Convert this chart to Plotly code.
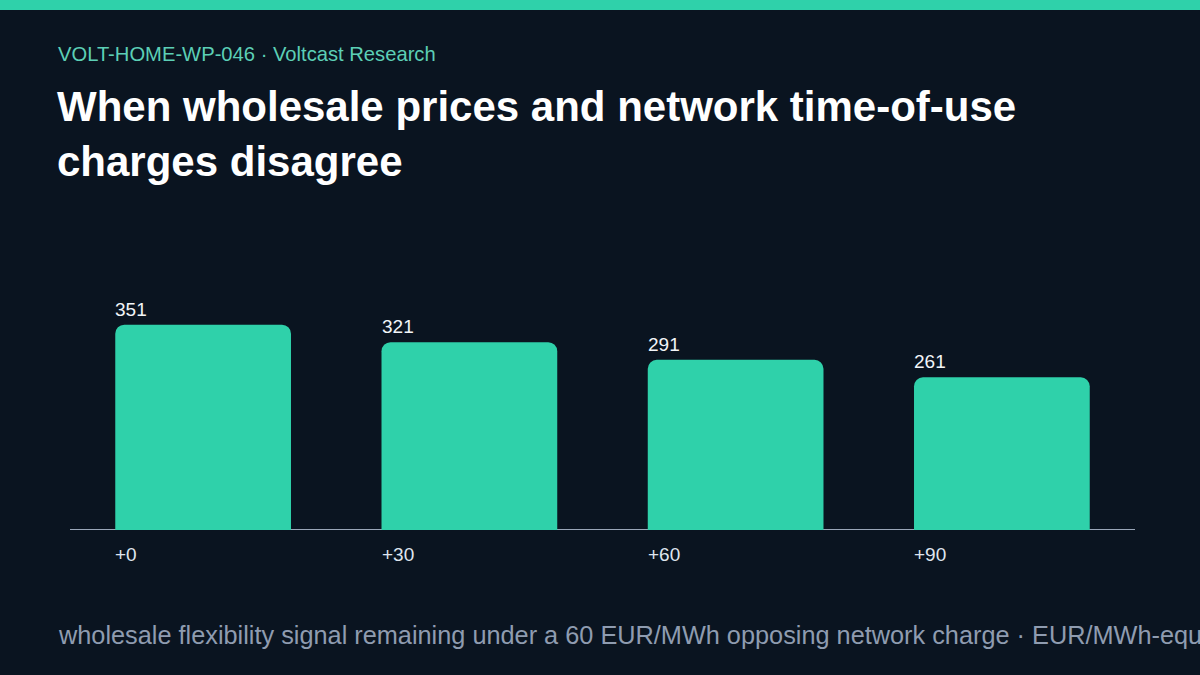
import plotly.graph_objects as go

# values
offsets = ["+0", "+30", "+60", "+90"]
remaining = [351, 321, 291, 261]

kicker = "VOLT-HOME-WP-046 · Voltcast Research"
title = "When wholesale prices and network time-of-use<br>charges disagree"
footer = ("wholesale flexibility signal remaining under a 60 EUR/MWh opposing "
          "network charge · EUR/MWh-equivalent")

BG = "#0a1420"
TEAL = "#2fd1aa"
W, H = 1200, 675
ML, MR, MT, MB = 70, 65, 296, 145
plot_h = H - MT - MB
plot_w = W - ML - MR


def px_to_paper_y(py):
    return (H - MB - py) / plot_h


def px_to_paper_x(px):
    return (px - ML) / plot_w


xs = list(range(len(offsets)))
bar_w = 0.66

fig = go.Figure()
fig.add_trace(go.Bar(
    x=xs, y=remaining, width=bar_w,
    marker=dict(color=TEAL, line=dict(width=0), cornerradius=9),
    hoverinfo="skip",
))

# value labels, left-aligned on each bar
for x, v in zip(xs, remaining):
    fig.add_annotation(x=x - bar_w / 2, y=v, text=str(v), showarrow=False,
                       xanchor="left", yanchor="bottom", yshift=3, xshift=-2,
                       font=dict(size=19, color="#f2f5f8"))

# category labels below the baseline
for x, lab in zip(xs, offsets):
    fig.add_annotation(x=x - bar_w / 2, y=0, text=lab, showarrow=False,
                       xanchor="left", yanchor="top", yshift=-12, xshift=-2,
                       font=dict(size=19, color="#dfe5ee"))

fig.add_annotation(xref="paper", yref="paper", x=px_to_paper_x(56), y=px_to_paper_y(54),
                   text=kicker, showarrow=False, xanchor="left", yanchor="middle",
                   font=dict(size=20.2, color="#5ccfb6"))
fig.add_annotation(xref="paper", yref="paper", x=px_to_paper_x(56), y=px_to_paper_y(635),
                   text=footer, showarrow=False, xanchor="left", yanchor="middle",
                   font=dict(size=25.3, color="#8f9cb0"))

# teal strip along the top edge
fig.add_shape(type="rect", xref="paper", yref="paper",
              x0=px_to_paper_x(-5), x1=px_to_paper_x(W + 5),
              y0=px_to_paper_y(10), y1=px_to_paper_y(-5),
              fillcolor=TEAL, line=dict(width=0), layer="above")

fig.update_layout(
    width=W, height=H,
    paper_bgcolor=BG, plot_bgcolor=BG,
    margin=dict(l=ML, r=MR, t=MT, b=MB),
    font=dict(family="Liberation Sans, Arial, sans-serif"),
    showlegend=False,
    title=dict(text="<b>" + title + "</b>", xref="container", yref="container",
               x=57 / W, y=1 - 121 / H, xanchor="left", yanchor="top",
               font=dict(size=42, color="#ffffff")),
    xaxis=dict(range=[-0.5, len(offsets) - 0.5], showticklabels=False, showgrid=False,
               zeroline=False, showline=False, ticks=""),
    yaxis=dict(range=[0, 400], visible=False, showgrid=False, zeroline=False),
)

fig.add_shape(type="line", xref="paper", yref="y", x0=0, x1=1, y0=0, y1=0,
              line=dict(color="#9aa6b8", width=2), layer="below")

fig.write_html("out.html", config={"displayModeBar": False},
               post_script="document.body.style.margin='0';"
                           "document.body.style.background='" + BG + "';")
